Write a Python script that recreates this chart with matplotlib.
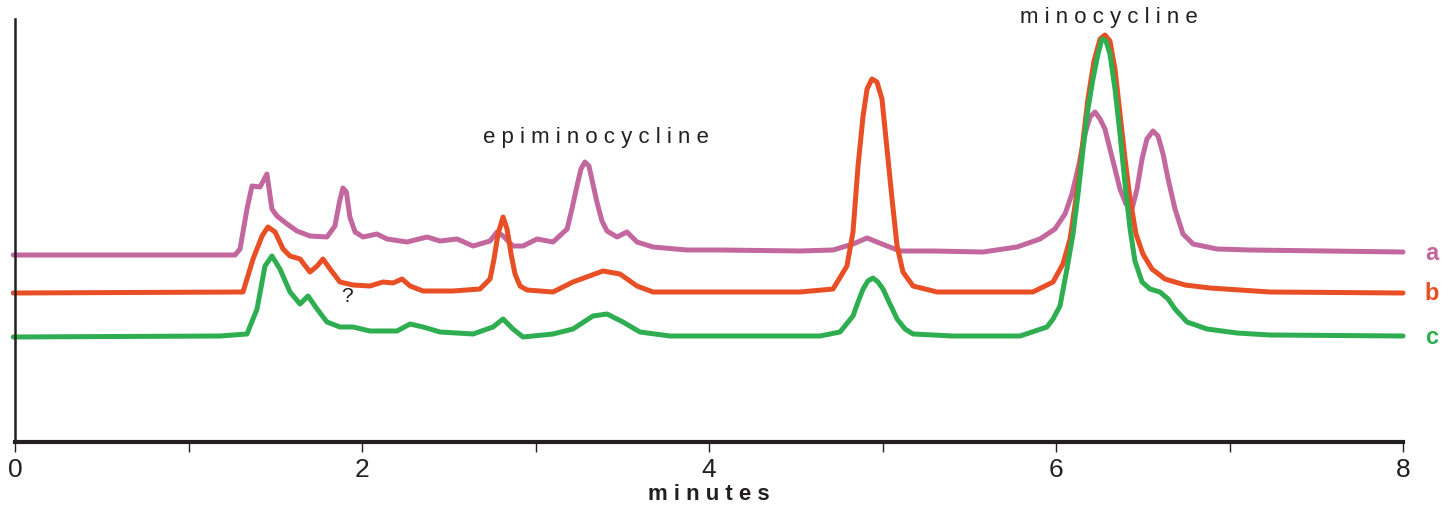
import matplotlib
matplotlib.use("Agg")
import matplotlib.pyplot as plt

# ---- data (time in minutes, detector signal in arbitrary units) ----
t_a = [-0.01, 1.268, 1.297, 1.337, 1.366, 1.412, 1.452, 1.481, 1.510, 1.568, 1.625, 1.700, 1.798,
       1.844, 1.870, 1.890, 1.910, 1.930, 1.960, 2.006, 2.086, 2.144, 2.259, 2.375, 2.450, 2.548,
       2.640, 2.738, 2.778, 2.813, 2.870, 2.928, 3.009, 3.101, 3.182, 3.210, 3.239, 3.262, 3.285,
       3.308, 3.331, 3.354, 3.383, 3.412, 3.470, 3.527, 3.585, 3.677, 3.873, 4.063, 4.524, 4.715,
       4.830, 4.911, 5.026, 5.101, 5.291, 5.579, 5.775, 5.908, 5.994, 6.052, 6.092, 6.133, 6.167,
       6.196, 6.225, 6.254, 6.282, 6.311, 6.340, 6.369, 6.403, 6.438, 6.467, 6.496, 6.524, 6.559,
       6.588, 6.617, 6.646, 6.686, 6.732, 6.790, 6.928, 7.118, 8.0]
s_a = [187, 187, 193, 233, 256, 255, 268, 233, 226, 218, 211, 206, 205,
       216, 240, 254, 250, 225, 210, 205, 208, 203, 200, 205, 201, 203,
       196, 201, 210, 206, 196, 196, 203, 200, 213, 233, 256, 273, 280,
       276, 258, 240, 221, 211, 205, 210, 200, 195, 192, 192, 191, 192,
       198, 204, 196, 191, 191, 190, 195, 203, 213, 228, 248, 278, 308,
       325, 330, 323, 313, 293, 273, 253, 238, 233, 253, 283, 303, 311,
       306, 288, 263, 233, 208, 198, 193, 192, 190]

t_b = [-0.01, 1.314, 1.372, 1.424, 1.458, 1.499, 1.545, 1.585, 1.643, 1.700, 1.741, 1.775, 1.816,
       1.873, 1.948, 2.046, 2.121, 2.179, 2.231, 2.277, 2.352, 2.524, 2.680, 2.738, 2.761, 2.784,
       2.813, 2.836, 2.859, 2.882, 2.911, 2.951, 3.101, 3.216, 3.389, 3.487, 3.585, 3.677, 4.063,
       4.524, 4.715, 4.795, 4.830, 4.859, 4.888, 4.911, 4.939, 4.968, 4.997, 5.026, 5.055, 5.084,
       5.118, 5.176, 5.314, 5.867, 5.983, 6.040, 6.081, 6.115, 6.150, 6.184, 6.219, 6.254, 6.282,
       6.311, 6.340, 6.369, 6.398, 6.427, 6.461, 6.501, 6.553, 6.628, 6.744, 6.888, 7.233, 8.0]
s_b = [149, 150, 183, 206, 215, 210, 193, 186, 183, 170, 176, 183, 173,
       160, 157, 156, 160, 159, 163, 156, 151, 151, 153, 163, 183, 208,
       225, 213, 188, 168, 156, 152, 150, 160, 171, 168, 156, 150, 150,
       150, 153, 176, 210, 276, 326, 353, 363, 360, 343, 293, 243, 196,
       170, 156, 150, 150, 160, 178, 203, 243, 293, 343, 381, 403, 407,
       401, 373, 328, 283, 243, 208, 188, 173, 163, 157, 154, 150, 149]

t_c = [-0.01, 1.182, 1.337, 1.395, 1.441, 1.481, 1.527, 1.585, 1.643, 1.689, 1.741, 1.798, 1.873,
       1.948, 2.046, 2.202, 2.277, 2.352, 2.450, 2.640, 2.755, 2.813, 2.870, 2.928, 3.101, 3.216,
       3.331, 3.412, 3.504, 3.602, 3.775, 4.640, 4.755, 4.830, 4.859, 4.888, 4.916, 4.945, 4.974,
       5.003, 5.043, 5.084, 5.130, 5.176, 5.406, 5.793, 5.948, 5.983, 6.023, 6.063, 6.098, 6.127,
       6.156, 6.184, 6.213, 6.242, 6.265, 6.288, 6.311, 6.340, 6.369, 6.398, 6.427, 6.455, 6.496,
       6.542, 6.599, 6.646, 6.686, 6.755, 6.870, 7.043, 7.233, 8.0]
s_c = [105, 106, 108, 133, 176, 186, 173, 150, 138, 146, 133, 120, 115,
       115, 111, 111, 118, 115, 110, 108, 115, 123, 113, 105, 108, 113,
       126, 128, 120, 110, 106, 106, 110, 126, 140, 153, 161, 164, 160,
       153, 138, 123, 113, 108, 106, 106, 115, 123, 136, 173, 208, 248,
       293, 333, 363, 388, 403, 401, 388, 353, 308, 258, 213, 181, 160,
       153, 150, 143, 133, 120, 113, 109, 107, 106]

series = [("a", t_a, s_a, "#C2689E"),
          ("b", t_b, s_b, "#E84F25"),
          ("c", t_c, s_c, "#2EAE50")]

xticks = [0, 1, 2, 3, 4, 5, 6, 7, 8]
xticklabels = ["0", "", "2", "", "4", "", "6", "", "8"]

# ---- figure ----
fig = plt.figure(figsize=(14.48, 5.06), dpi=100)
W, H = 1448, 506
ax = fig.add_axes([15 / W, (H - 443) / H, (1403 - 15) / W, (443 - 20) / H])

for name, t, s, col in series:
    ax.plot(t, s, color=col, lw=3.6, solid_capstyle="round", solid_joinstyle="round", clip_on=False)
    ax.text(8.167, s[-1], name, color=col, fontsize=17, fontweight="bold",
            ha="center", va="center", family=["Liberation Sans", "DejaVu Sans"])

ax.set_xlim(0, 8)
ax.set_ylim(0, 423)
ax.set_yticks([])
ax.set_xticks(xticks)
ax.set_xticklabels(xticklabels, fontsize=19, family=["Liberation Sans Narrow", "Liberation Sans"],
                   color="#231F20")
ax.tick_params(axis="x", direction="out", length=7, width=1.0, color="#231F20", pad=4)

for sp in ["top", "right"]:
    ax.spines[sp].set_visible(False)
ax.spines["bottom"].set_linewidth(3.0)
ax.spines["bottom"].set_color("#231F20")
ax.spines["left"].set_linewidth(1.8)
ax.spines["left"].set_color("#231F20")

ax.set_xlabel("m i n u t e s", fontsize=16, fontweight="bold", color="#231F20",
              family=["Liberation Sans", "DejaVu Sans"], labelpad=1)

txtkw = dict(color="#231F20", family=["Liberation Sans", "DejaVu Sans"], ha="center", va="center")
ax.text(3.349, 305, "e p i m i n o c y c l i n e", fontsize=16, **txtkw)
ax.text(6.305, 425, "m i n o c y c l i n e", fontsize=16, clip_on=False, **txtkw)
ax.text(1.914, 146, "?", fontsize=15, **txtkw)

fig.savefig("out.png", dpi=100)
